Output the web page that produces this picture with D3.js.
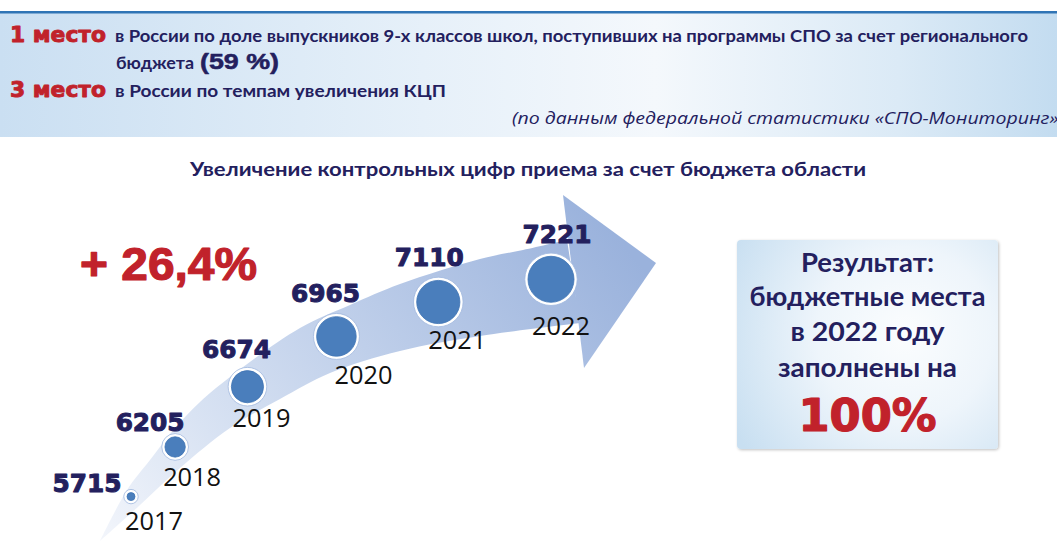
<!DOCTYPE html>
<html><head><meta charset="utf-8">
<script src="https://cdn.jsdelivr.net/npm/d3@7"></script>
<style>html,body{margin:0;padding:0;background:#fff;overflow:hidden}</style>
</head><body>
<svg id="c" width="1057" height="541"></svg>
<script>
// ---------- data ----------
const years  = [2017, 2018, 2019, 2020, 2021, 2022];
const values = [5715, 6205, 6674, 6965, 7110, 7221];
const growthLabel = "+ 26,4%";
const chartTitle = "Увеличение контрольных цифр приема за счет бюджета области";
const rankPlaces = ["1 место", "3 место"];
const rankTexts = [
  "в России по доле выпускников 9-х классов школ,  поступивших на программы СПО за счет регионального",
  "в России по темпам увеличения КЦП"
];
const rankCont = ["бюджета", "(59 %)"];
const sourceNote = "(по данным федеральной статистики «СПО-Мониторинг»)";
const resultLines = ["Результат:", "бюджетные места", "в 2022 году", "заполнены на"];
const resultValue = "100%";

// ---------- layout ----------
const W = 1057, H = 541;
const NAVY = "#23205e", RED = "#c1222b";
const svg = d3.select("#c");
const defs = svg.append("defs");

function fit(sel, w){ return sel.attr("textLength", w).attr("lengthAdjust", "spacingAndGlyphs"); }
function heavy(sel, c, w){ return sel.attr("stroke", c).attr("stroke-width", w).attr("stroke-linejoin","round"); }

// header gradient
const hg = defs.append("linearGradient").attr("id","hdr").attr("x1","0").attr("x2","1").attr("y1","0").attr("y2","0");
[[0,"#cadff2"],[0.4,"#e6f0f9"],[0.62,"#f4f8fc"],[0.85,"#dbeaf6"],[1,"#c3dcf0"]].forEach(s=>hg.append("stop").attr("offset",s[0]).attr("stop-color",s[1]));

// arrow gradient
const ag = defs.append("linearGradient").attr("id","arr").attr("gradientUnits","userSpaceOnUse")
  .attr("x1",120).attr("y1",560).attr("x2",580).attr("y2",190);
[[0,"#f2f5fb"],[0.25,"#d9e3f3"],[0.55,"#bfcfea"],[1,"#9ab2dc"]].forEach(s=>ag.append("stop").attr("offset",s[0]).attr("stop-color",s[1]));

// result box gradient
const rg = defs.append("radialGradient").attr("id","res").attr("gradientUnits","userSpaceOnUse")
  .attr("cx",905).attr("cy",335).attr("r",195);
[[0,"#fbfdfe"],[0.45,"#eef5fb"],[1,"#c8dff1"]].forEach(s=>rg.append("stop").attr("offset",s[0]).attr("stop-color",s[1]));
const sh = defs.append("filter").attr("id","shadow").attr("x","-10%").attr("y","-10%").attr("width","120%").attr("height","120%");
sh.append("feGaussianBlur").attr("in","SourceAlpha").attr("stdDeviation",1.5).attr("result","b");
sh.append("feOffset").attr("in","b").attr("dx",1).attr("dy",1).attr("result","o");
sh.append("feComponentTransfer").attr("in","o").attr("result","o2").append("feFuncA").attr("type","linear").attr("slope",0.25);
const mg = sh.append("feMerge"); mg.append("feMergeNode").attr("in","o2"); mg.append("feMergeNode").attr("in","SourceGraphic");

// ---------- header ----------
svg.append("rect").attr("x",0).attr("y",13).attr("width",W).attr("height",124).attr("fill","url(#hdr)");
svg.append("rect").attr("x",0).attr("y",11).attr("width",W).attr("height",2.5).attr("fill","#2f74b5");

const rankY = [42, 97];
rankPlaces.forEach((t,i)=>{
  heavy(fit(svg.append("text").attr("x",10).attr("y",rankY[i]).text(t)
    .attr("font-family","DejaVu Sans").attr("font-weight","bold").attr("font-size",21).attr("fill",RED), 96), RED, 0.9);
});
fit(svg.append("text").attr("x",115).attr("y",42).text(rankTexts[0])
  .attr("font-family","Lato").attr("font-weight","bold").attr("font-size",17).attr("fill",NAVY), 913);
fit(svg.append("text").attr("x",115).attr("y",97).text(rankTexts[1])
  .attr("font-family","Lato").attr("font-weight","bold").attr("font-size",17).attr("fill",NAVY), 331);
fit(svg.append("text").attr("x",116).attr("y",69).text(rankCont[0])
  .attr("font-family","Lato").attr("font-weight","bold").attr("font-size",17).attr("fill",NAVY), 78);
heavy(fit(svg.append("text").attr("x",200).attr("y",69).text(rankCont[1])
  .attr("font-family","Liberation Sans").attr("font-weight","bold").attr("font-size",22).attr("fill",NAVY), 79), NAVY, 0.5);
fit(svg.append("text").attr("x",512).attr("y",124).text(sourceNote)
  .attr("font-family","Open Sans").attr("font-style","italic").attr("font-size",16).attr("fill",NAVY), 552);

// title
fit(svg.append("text").attr("x",190).attr("y",176).text(chartTitle)
  .attr("font-family","Lato").attr("font-weight","bold").attr("font-size",18.5).attr("fill",NAVY), 676);

// ---------- arrow (decoration) ----------
const upperPts = [[100,541],[127,490],[150,460],[175,428],[200,402],[230,377],[300,328],[350,305],[400,284],[480,259],[523,250],[567,240]];
const lowerPts = [[100,541],[140,505],[180,468],[230,428],[280,399],[330,373],[400,351],[480,336],[580,323]];
const headPts = [[563,195],[656,263],[584,368]];
const curve = d3.line().curve(d3.curveCatmullRom.alpha(0.5));
const shaftD = curve(upperPts) + "L" + curve(lowerPts.slice().reverse()).slice(1) + "Z";
svg.append("path").attr("d", shaftD).attr("fill","url(#arr)");
svg.append("path").attr("d", "M"+headPts.join("L")+"Z").attr("fill","url(#arr)");

// sample edges for positioning the markers along the arrow
function sampler(pts){
  const p = svg.append("path").attr("d", curve(pts)).attr("fill","none").attr("stroke","none");
  const node = p.node(), L = node.getTotalLength(), s = [];
  for (let i=0;i<=400;i++){ const q = node.getPointAtLength(L*i/400); s.push([q.x,q.y]); }
  s.sort((a,b)=>a[0]-b[0]);
  p.remove();
  return x => { for (let i=1;i<s.length;i++){ if (s[i][0]>=x){ const a=s[i-1], b=s[i]; const t=(x-a[0])/((b[0]-a[0])||1); return a[1]+t*(b[1]-a[1]); } } return s[s.length-1][1]; };
}
const upperY = sampler(upperPts), lowerY = sampler(lowerPts);

// ---------- scales ----------
const idx = d3.scaleLinear().domain([years[0], years[years.length-1]]).range([0, years.length-1]);
const x = d3.scalePow().exponent(1.4).domain([0, years.length-1]).range([131, 551]);
const r = d3.scaleLinear().domain(d3.extent(values)).range([4, 23]);
const yOnArrow = px => upperY(px) + 0.43*(lowerY(px)-upperY(px));

const pts = years.map((yr,i)=>{ const cx = x(idx(yr)); return {yr, v: values[i], cx, cy: yOnArrow(cx), r: r(values[i])}; });

// label nudges (layout)
const valueDx = [-44,-25,-11,-11,-9,6], valueDy = [-5,-16,-29,-34,-36,-36];
const yearDx = [23,17,14,27,19,10],  yearDy = [33,39,40,48,47,56];

const g = svg.append("g");
g.selectAll("circle.halo").data(pts).join("circle").attr("class","halo")
  .attr("cx",d=>d.cx).attr("cy",d=>d.cy).attr("r",d=>d.r+3.2)
  .attr("fill","#ffffff").attr("stroke","#9fb8de").attr("stroke-width",0.8);
g.selectAll("circle.dot").data(pts).join("circle").attr("class","dot")
  .attr("cx",d=>d.cx).attr("cy",d=>d.cy).attr("r",d=>d.r)
  .attr("fill","#4a7ebc").attr("stroke","#3f74b4").attr("stroke-width",0.8);

g.selectAll("text.val").data(pts).join("text").attr("class","val")
  .attr("x",(d,i)=>d.cx+valueDx[i]).attr("y",(d,i)=>d.cy+valueDy[i])
  .attr("text-anchor","middle").attr("font-family","DejaVu Sans").attr("font-weight","bold")
  .attr("font-size",25).attr("fill",NAVY).text(d=>d.v)
  .attr("stroke",NAVY).attr("stroke-width",1).attr("stroke-linejoin","round")
  .attr("textLength",69).attr("lengthAdjust","spacingAndGlyphs");

g.selectAll("text.yr").data(pts).join("text").attr("class","yr")
  .attr("x",(d,i)=>d.cx+yearDx[i]).attr("y",(d,i)=>d.cy+yearDy[i])
  .attr("text-anchor","middle").attr("font-family","Open Sans")
  .attr("font-size",26).attr("fill","#111").text(d=>d.yr)
  .attr("textLength",58).attr("lengthAdjust","spacingAndGlyphs");

// growth label
heavy(fit(svg.append("text").attr("x",80).attr("y",280).text(growthLabel)
  .attr("font-family","Liberation Sans").attr("font-weight","bold").attr("font-size",47).attr("fill",RED), 177), RED, 1.2);

// ---------- result box ----------
svg.append("rect").attr("x",737).attr("y",240).attr("width",261).attr("height",209).attr("rx",4)
  .attr("fill","url(#res)").attr("filter","url(#shadow)");
const resY = [272, 306, 341, 377], resW = [133, 236, 154, 179];
resultLines.forEach((t,i)=>{
  fit(svg.append("text").attr("x",867.5).attr("y",resY[i]).attr("text-anchor","middle").text(t)
    .attr("font-family","Lato").attr("font-weight","bold").attr("font-size",26).attr("fill",NAVY), resW[i]);
});
heavy(fit(svg.append("text").attr("x",867.5).attr("y",431).attr("text-anchor","middle").text(resultValue)
  .attr("font-family","DejaVu Sans").attr("font-weight","bold").attr("font-size",44).attr("fill",RED), 138), RED, 1.2);
</script>
</body></html>
